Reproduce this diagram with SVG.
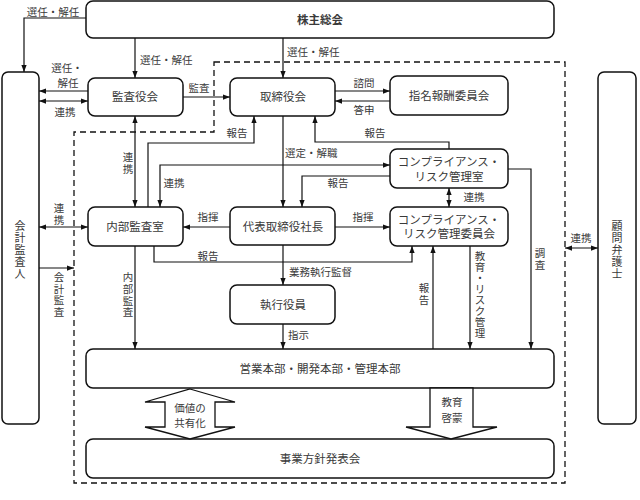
<svg xmlns="http://www.w3.org/2000/svg" width="640" height="500" viewBox="0 0 640 500">
<defs>
<style>
.box{fill:#fff;stroke:#111;stroke-width:1.5}
.ln{fill:none;stroke:#111;stroke-width:1.2}
.dash{fill:none;stroke:#111;stroke-width:1.3;stroke-dasharray:6 4}
.blk{fill:#fff;stroke:#111;stroke-width:1.3;stroke-linejoin:miter}
text{font-family:"Liberation Serif","Noto Sans CJK JP",serif;fill:#3a3a3a;dominant-baseline:central}
.bt{font-size:11.5px;text-anchor:middle}
.vt{font-size:11px;text-anchor:middle}
.lb{font-size:10.5px}
.c{text-anchor:middle}
.s{text-anchor:start}
</style>
<marker id="ah" viewBox="0 0 8 6" refX="8" refY="3" markerWidth="7" markerHeight="5.5" markerUnits="userSpaceOnUse" orient="auto-start-reverse">
<path d="M0,0 L8,3 L0,6 z" fill="#111"/>
</marker>
</defs>
<rect width="640" height="500" fill="#fff"/>
<path class="dash" d="M214,62 H565 V483 H74 V132 H214 Z"/>

<g id="kabunushi"><rect class="box" x="86" y="1" width="468" height="37" rx="7"/><text class="bt" x="320" y="20" font-weight="bold">株主総会</text></g>
<g id="kaikei"><rect class="box" x="2" y="72" width="37" height="352" rx="6"/><text class="vt"><tspan x="20" y="226">会</tspan><tspan x="20" y="238">計</tspan><tspan x="20" y="250">監</tspan><tspan x="20" y="262">査</tspan><tspan x="20" y="274">人</tspan></text></g>
<g id="komon"><rect class="box" x="598" y="72" width="38" height="352" rx="6"/><text class="vt"><tspan x="617" y="226">顧</tspan><tspan x="617" y="238">問</tspan><tspan x="617" y="250">弁</tspan><tspan x="617" y="262">護</tspan><tspan x="617" y="274">士</tspan></text></g>
<g id="kansayaku"><rect class="box" x="88" y="78" width="95" height="38" rx="7"/><text class="bt" x="135" y="97">監査役会</text></g>
<g id="torishimari"><rect class="box" x="230" y="78" width="105" height="38" rx="7"/><text class="bt" x="283" y="97">取締役会</text></g>
<g id="shimei"><rect class="box" x="390" y="76" width="118" height="39" rx="7"/><text class="bt" x="449" y="96">指名報酬委員会</text></g>
<g id="comp-shitsu"><rect class="box" x="390" y="149" width="118" height="39" rx="7"/><text class="bt" x="449" y="162">コンプライアンス・</text><text class="bt" x="449" y="177">リスク管理室</text></g>
<g id="naibu"><rect class="box" x="88" y="207" width="95" height="39" rx="7"/><text class="bt" x="135" y="227">内部監査室</text></g>
<g id="daihyo"><rect class="box" x="230" y="207" width="105" height="38" rx="7"/><text class="bt" x="283" y="227">代表取締役社長</text></g>
<g id="comp-iinkai"><rect class="box" x="390" y="207" width="118" height="39" rx="7"/><text class="bt" x="449" y="220">コンプライアンス・</text><text class="bt" x="449" y="234">リスク管理委員会</text></g>
<g id="shikko"><rect class="box" x="230" y="285" width="105" height="39" rx="7"/><text class="bt" x="283" y="305">執行役員</text></g>
<g id="eigyo"><rect class="box" x="86" y="349" width="468" height="39" rx="7"/><text class="bt" x="320" y="369">営業本部・開発本部・管理本部</text></g>
<g id="jigyo"><rect class="box" x="86" y="439" width="468" height="39" rx="7"/><text class="bt" x="320" y="459">事業方針発表会</text></g>

<g id="block-arrows">
<path class="blk" d="M190,389 L235,402 L215,402 L215,427 L235,427 L190,439 L145,427 L165,427 L165,402 L145,402 Z"/>
<text class="lb c" x="190" y="408">価値の</text><text class="lb c" x="190" y="423">共有化</text>
<path class="blk" d="M430,388 L473,388 L473,427 L497,427 L451,439 L406,427 L430,427 Z"/>
<text class="lb c" x="452" y="402">教育</text><text class="lb c" x="452" y="418">啓蒙</text>
</g>

<g id="connectors">
<path class="ln" d="M86,18 H24 V72" marker-end="url(#ah)"/>
<path class="ln" d="M135,38 V78" marker-end="url(#ah)"/>
<path class="ln" d="M283,38 V78" marker-end="url(#ah)"/>
<path class="ln" d="M88,91 H39" marker-end="url(#ah)"/>
<path class="ln" d="M39,101 H88" marker-start="url(#ah)" marker-end="url(#ah)"/>
<path class="ln" d="M183,97 H230" marker-end="url(#ah)"/>
<path class="ln" d="M335,91 H390" marker-end="url(#ah)"/>
<path class="ln" d="M390,101 H335" marker-end="url(#ah)"/>
<path class="ln" d="M135,116 V207" marker-start="url(#ah)" marker-end="url(#ah)"/>
<path class="ln" d="M148,207 V143 H254 V116" marker-end="url(#ah)"/>
<path class="ln" d="M283,116 V207" marker-end="url(#ah)"/>
<path class="ln" d="M160,207 V165 H390" marker-start="url(#ah)" marker-end="url(#ah)"/>
<path class="ln" d="M390,176 H302 V207" marker-end="url(#ah)"/>
<path class="ln" d="M449,149 V142 H315 V116" marker-end="url(#ah)"/>
<path class="ln" d="M449,188 V207" marker-start="url(#ah)" marker-end="url(#ah)"/>
<path class="ln" d="M508,169 H531 V349" marker-end="url(#ah)"/>
<path class="ln" d="M230,227 H183" marker-end="url(#ah)"/>
<path class="ln" d="M335,227 H390" marker-end="url(#ah)"/>
<path class="ln" d="M154,246 V262 H412 V246" marker-end="url(#ah)"/>
<path class="ln" d="M283,245 V285" marker-end="url(#ah)"/>
<path class="ln" d="M283,324 V349" marker-end="url(#ah)"/>
<path class="ln" d="M135,246 V349" marker-end="url(#ah)"/>
<path class="ln" d="M433,349 V246" marker-end="url(#ah)"/>
<path class="ln" d="M470,246 V349" marker-end="url(#ah)"/>
<path class="ln" d="M39,227 H88" marker-start="url(#ah)" marker-end="url(#ah)"/>
<path class="ln" d="M39,268 H74" marker-end="url(#ah)"/>
<path class="ln" d="M565,248 H598" marker-start="url(#ah)" marker-end="url(#ah)"/>
</g>

<g id="labels">
<text class="lb c" x="53" y="12">選任・解任</text>
<text class="lb s" x="140" y="60">選任・解任</text>
<text class="lb s" x="287" y="52">選任・解任</text>
<text class="lb c" x="67" y="68">選任・</text>
<text class="lb c" x="68" y="83">解任</text>
<text class="lb c" x="65" y="112">連携</text>
<text class="lb c" x="199" y="88">監査</text>
<text class="lb c" x="364" y="83">諮問</text>
<text class="lb c" x="364" y="110">答申</text>
<text class="lb c" x="237" y="133">報告</text>
<text class="lb c" x="375" y="133">報告</text>
<text class="lb s" x="285" y="153">選定・解職</text>
<text class="lb c" x="174" y="183">連携</text>
<text class="lb c" x="338" y="183">報告</text>
<text class="lb c" x="474" y="197">連携</text>
<text class="lb c"><tspan x="128" y="157">連</tspan><tspan x="128" y="169">携</tspan></text>
<text class="lb c" x="208" y="217">指揮</text>
<text class="lb c" x="363" y="217">指揮</text>
<text class="lb c" x="208" y="256">報告</text>
<text class="lb s" x="289" y="272">業務執行監督</text>
<text class="lb s" x="288" y="335">指示</text>
<text class="lb c"><tspan x="128" y="277">内</tspan><tspan x="128" y="289">部</tspan><tspan x="128" y="300.5">監</tspan><tspan x="128" y="312">査</tspan></text>
<text class="lb c"><tspan x="424" y="288">報</tspan><tspan x="424" y="300">告</tspan></text>
<text class="lb c"><tspan x="480" y="256">教</tspan><tspan x="480" y="267">育</tspan><tspan x="480" y="278">・</tspan><tspan x="480" y="289">リ</tspan><tspan x="480" y="300">ス</tspan><tspan x="480" y="311">ク</tspan><tspan x="480" y="322">管</tspan><tspan x="480" y="333">理</tspan></text>
<text class="lb c"><tspan x="540" y="253">調</tspan><tspan x="540" y="265">査</tspan></text>
<text class="lb c"><tspan x="59" y="208">連</tspan><tspan x="59" y="220">携</tspan></text>
<text class="lb c"><tspan x="59" y="277">会</tspan><tspan x="59" y="288.5">計</tspan><tspan x="59" y="300">監</tspan><tspan x="59" y="312">査</tspan></text>
<text class="lb c" x="581" y="238">連携</text>
</g>
</svg>
